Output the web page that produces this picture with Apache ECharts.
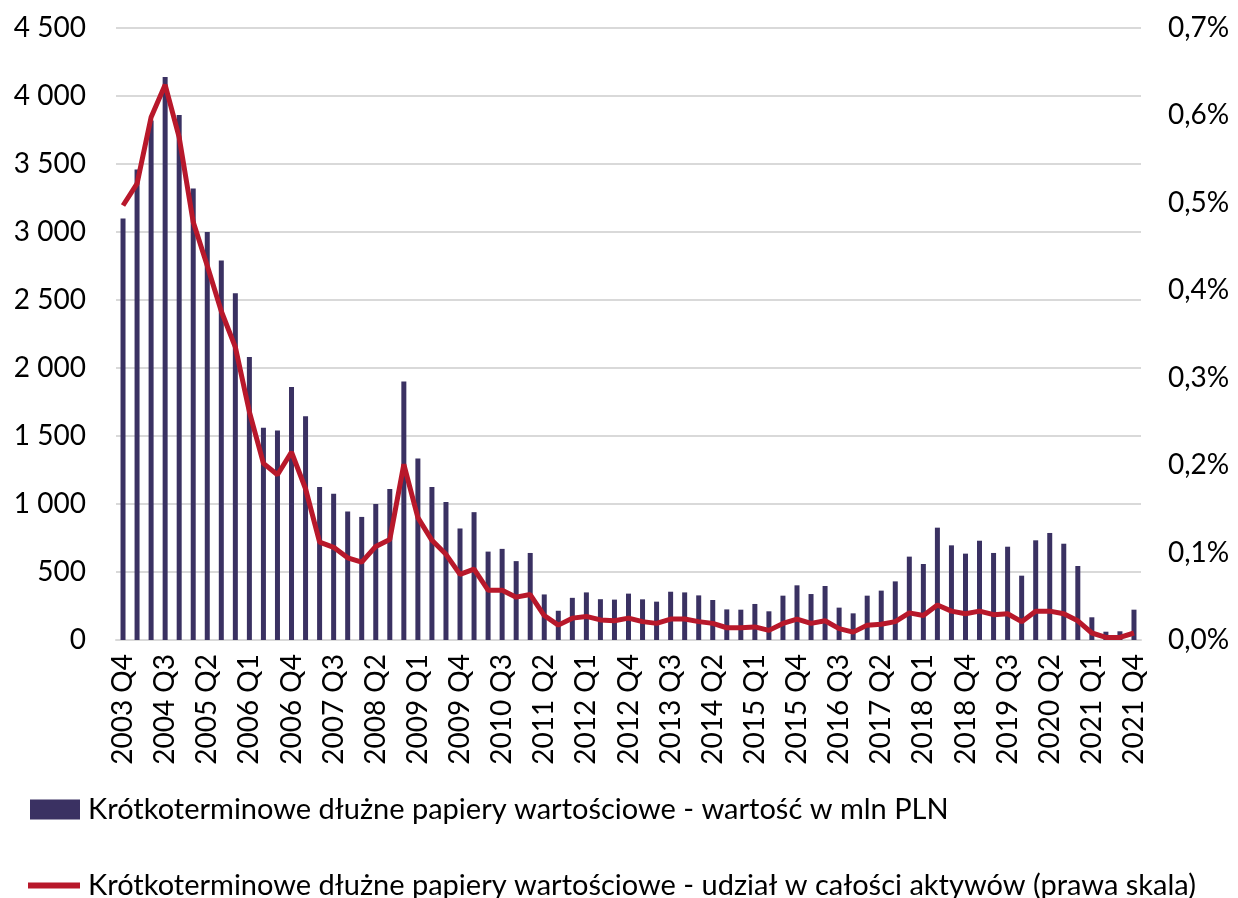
<!DOCTYPE html>
<html>
<head>
<meta charset="utf-8">
<script src="https://cdn.jsdelivr.net/npm/echarts@6/dist/echarts.min.js"></script>
<style>
  html, body { margin: 0; padding: 0; background: #fff; }
  #chart { width: 1238px; height: 898px; }
</style>
</head>
<body>
<div id="chart"></div>
<script>
// kwartały 2003 Q4 - 2021 Q4
const quarters = [
  '2003 Q4',
  '2004 Q1', '2004 Q2', '2004 Q3', '2004 Q4',
  '2005 Q1', '2005 Q2', '2005 Q3', '2005 Q4',
  '2006 Q1', '2006 Q2', '2006 Q3', '2006 Q4',
  '2007 Q1', '2007 Q2', '2007 Q3', '2007 Q4',
  '2008 Q1', '2008 Q2', '2008 Q3', '2008 Q4',
  '2009 Q1', '2009 Q2', '2009 Q3', '2009 Q4',
  '2010 Q1', '2010 Q2', '2010 Q3', '2010 Q4',
  '2011 Q1', '2011 Q2', '2011 Q3', '2011 Q4',
  '2012 Q1', '2012 Q2', '2012 Q3', '2012 Q4',
  '2013 Q1', '2013 Q2', '2013 Q3', '2013 Q4',
  '2014 Q1', '2014 Q2', '2014 Q3', '2014 Q4',
  '2015 Q1', '2015 Q2', '2015 Q3', '2015 Q4',
  '2016 Q1', '2016 Q2', '2016 Q3', '2016 Q4',
  '2017 Q1', '2017 Q2', '2017 Q3', '2017 Q4',
  '2018 Q1', '2018 Q2', '2018 Q3', '2018 Q4',
  '2019 Q1', '2019 Q2', '2019 Q3', '2019 Q4',
  '2020 Q1', '2020 Q2', '2020 Q3', '2020 Q4',
  '2021 Q1', '2021 Q2', '2021 Q3', '2021 Q4'
]

// wartość w mln PLN (lewa skala)
const wartosc = [
  3100,
  3460, 3820, 4140, 3860,
  3320, 3000, 2790, 2550,
  2080, 1560, 1540, 1860,
  1645, 1125, 1075, 945,
  905, 1000, 1110, 1900,
  1335, 1125, 1015, 820,
  940, 650, 670, 580,
  640, 335, 215, 310,
  350, 300, 297, 341,
  299, 282, 355, 350,
  328, 294, 225, 223,
  265, 211, 326, 402,
  338, 397, 238, 196,
  326, 363, 431, 613,
  559, 826, 696, 635,
  730, 640, 686, 473,
  733, 787, 708, 544,
  167, 61, 64, 223
]

// udział w całości aktywów, % (prawa skala)
const udzial = [
  0.497,
  0.522, 0.598, 0.635, 0.575,
  0.478, 0.428, 0.376, 0.335,
  0.261, 0.202, 0.189, 0.215,
  0.173, 0.112, 0.106, 0.094,
  0.089, 0.107, 0.115, 0.201,
  0.140, 0.114, 0.098, 0.075,
  0.081, 0.057, 0.057, 0.049,
  0.052, 0.028, 0.017, 0.025,
  0.027, 0.023, 0.022, 0.025,
  0.021, 0.019, 0.024, 0.024,
  0.021, 0.019, 0.014, 0.014,
  0.015, 0.011, 0.019, 0.024,
  0.019, 0.022, 0.013, 0.009,
  0.017, 0.018, 0.021, 0.031,
  0.028, 0.040, 0.033, 0.030,
  0.033, 0.029, 0.030, 0.021,
  0.033, 0.033, 0.030, 0.022,
  0.008, 0.003, 0.003, 0.008
]

const nameBar = 'Krótkoterminowe dłużne papiery wartościowe - wartość w mln PLN'
const nameLine = 'Krótkoterminowe dłużne papiery wartościowe - udział w całości aktywów (prawa skala)'

const font = 'Lato, "Open Sans", sans-serif'

const chart = echarts.init(document.getElementById('chart'))
const option = {
  animation: false,
  color: ['#3a3162', '#b8182b'],
  grid: {
    left: 116,
    right: 97,
    top: 28,
    bottom: 258
  },
  legend: [
    {
      orient: 'vertical',
      left: 25,
      top: 790,
      icon: 'rect',
      itemWidth: 50,
      itemHeight: 20,
      data: [nameBar],
      textStyle: { fontFamily: font, fontSize: 29, color: '#000', padding: [0, 0, 0, 3] }
    },
    {
      orient: 'vertical',
      left: 23,
      top: 866,
      icon: 'rect',
      itemWidth: 52,
      itemHeight: 6,
      data: [nameLine],
      textStyle: { fontFamily: font, fontSize: 29, color: '#000', padding: [0, 0, 0, 3] }
    }
  ],
  xAxis: {
    type: 'category',
    data: quarters,
    axisTick: { show: false },
    axisLine: { lineStyle: { color: '#d9d9d9', width: 2 } },
    axisLabel: {
      interval: 2,
      rotate: 90,
      margin: 14,
      color: '#000',
      fontFamily: font,
      fontSize: 28
    }
  },
  yAxis: [
    {
      type: 'value',
      min: 0,
      max: 4500,
      interval: 500,
      splitLine: { lineStyle: { color: '#d9d9d9', width: 2 } },
      axisLabel: {
        margin: 30,
        color: '#000',
        fontFamily: font,
        fontSize: 28,
        formatter: v => String(v).replace(/\B(?=(\d{3})+(?!\d))/g, ' ')
      }
    },
    {
      type: 'value',
      min: 0,
      max: 0.7,
      interval: 0.1,
      splitLine: { show: false },
      axisLabel: {
        margin: 27,
        color: '#000',
        fontFamily: font,
        fontSize: 28,
        formatter: v => v.toFixed(1).replace('.', ',') + '%'
      }
    }
  ],
  series: [
    {
      name: nameBar,
      type: 'bar',
      data: wartosc,
      barWidth: 5,
      yAxisIndex: 0
    },
    {
      name: nameLine,
      type: 'line',
      data: udzial,
      yAxisIndex: 1,
      showSymbol: false,
      symbol: 'none',
      lineStyle: { width: 5 }
    }
  ]
}
option && chart.setOption(option)
</script>
</body>
</html>
